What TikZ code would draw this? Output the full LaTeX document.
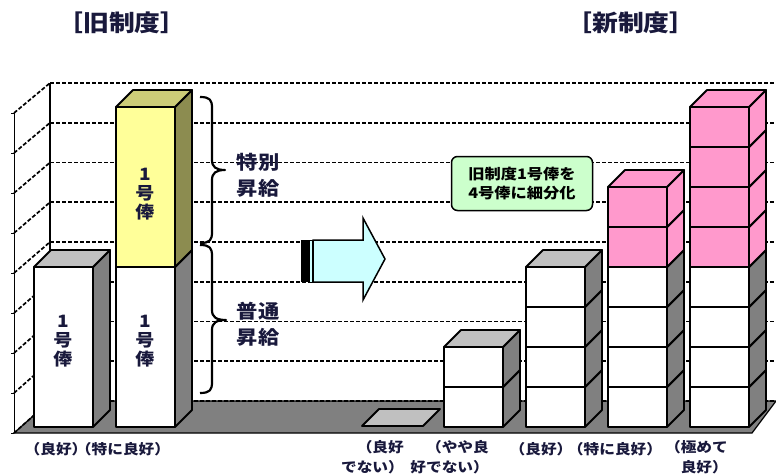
\documentclass[tikz,border=0pt]{standalone}
\usepackage{fontspec}
\setmainfont{Noto Sans CJK JP}[FakeStretch=1.12]
\usepackage{tikz}
\usetikzlibrary{positioning}
\usepackage{xcolor}
\definecolor{cFloor}{RGB}{128,128,128}
\definecolor{cSide}{RGB}{128,128,128}
\definecolor{cTop}{RGB}{192,192,192}
\definecolor{cYellow}{RGB}{255,255,153}
\definecolor{cOliveTop}{RGB}{204,204,120}
\definecolor{cOliveSide}{RGB}{140,140,80}
\definecolor{cPink}{RGB}{255,153,204}
\definecolor{cCyan}{RGB}{204,255,255}
\definecolor{cMint}{RGB}{204,255,204}
\definecolor{cInk}{RGB}{25,25,60}
\tikzset{
  gridline/.style={line width=1.7pt,dash pattern=on 4pt off 2pt,color=black},
  wallline/.style={line width=1.4pt,color=black},
  axisline/.style={line width=0.8pt,color=black},
  floorbox/.style={fill=cFloor,draw=black,line width=1.2pt},
  blockedge/.style={draw=black,line width=1.8pt,line join=round},
  bracepath/.style={line width=2.2pt,color=black,line join=round},
  arrowbox/.style={fill=cCyan,draw=black,line width=1.5pt,line join=miter},
  hdr/.style={font=\fontsize{23}{25}\selectfont\bfseries,text=cInk,inner sep=0pt},
  barlbl/.style={font=\fontsize{17}{19}\selectfont\bfseries,text=cInk,
                 align=center,inner sep=0pt},
  bracelbl/.style={font=\fontsize{19}{26}\selectfont\bfseries,text=cInk,
                   align=left,inner sep=0pt},
  catlbl/.style={font=\fontsize{14}{20}\selectfont\bfseries,text=cInk,
                 align=right,inner sep=0pt},
  notebox/.style={rectangle,rounded corners=6pt,draw=black,line width=1.5pt,
                  fill=cMint,minimum width=141pt,minimum height=54pt,
                  align=center,inner sep=0pt,
                  font=\fontsize{14.5}{19}\selectfont\bfseries}
}
% one 3D block: x, bottom y, height, front, side, top
\newcommand{\colblock}[6]{%
  \filldraw[blockedge,fill=#5] (#1+59,#2) -- ++(17,-17) -- ++(0,-#3)
      -- ++(-17,17) -- cycle;
  \filldraw[blockedge,fill=#4] (#1,#2) rectangle ++(59,-#3);
  \filldraw[blockedge,fill=#6] (#1,#2-#3) -- ++(17,-17) -- ++(59,0)
      -- ++(-17,17) -- cycle;
}
\begin{document}
\begin{tikzpicture}[x=1pt,y=-1pt]
  \useasboundingbox (0,0) rectangle (776,476);

  % floor, walls and grid
  \filldraw[floorbox] (14,433) -- (752,433) -- (776,401) -- (50,401) -- cycle;
  \foreach \k in {0,...,8}
    \draw[gridline] (50,83+39.75*\k) -- (776,83+39.75*\k);
  \foreach \k in {0,...,8}
    \draw[gridline] (14,113+40*\k) -- (50,83+39.75*\k);
  \draw[wallline] (50,83) -- (50,401);
  \draw[axisline] (14,113) -- (14,433);
  \foreach \k in {0,...,8}
    \draw[axisline] (11,113+40*\k) -- (14,113+40*\k);

  % old system
  \colblock{34}{427}{160}{white}{cSide}{cTop}
  \colblock{116}{427}{160}{white}{cSide}{cTop}
  \colblock{116}{267}{160}{cYellow}{cOliveSide}{cOliveTop}

  % new system
  \filldraw[blockedge,fill=cTop] (362,426) -- (423,426) -- (440,409)
      -- (379,409) -- cycle;
  \foreach \k in {0,1}{\colblock{444}{427-40*\k}{40}{white}{cSide}{cTop}}
  \foreach \k in {0,...,3}{\colblock{526}{427-40*\k}{40}{white}{cSide}{cTop}}
  \foreach \k in {0,...,3}{\colblock{608}{427-40*\k}{40}{white}{cSide}{cTop}}
  \foreach \k in {4,5}{\colblock{608}{427-40*\k}{40}{cPink}{cPink}{cPink}}
  \foreach \k in {0,...,3}{\colblock{690}{427-40*\k}{40}{white}{cSide}{cTop}}
  \foreach \k in {4,...,7}{\colblock{690}{427-40*\k}{40}{cPink}{cPink}{cPink}}

  % labels inside bars
  \node[barlbl] (oldA) at (63,341) {1\\号\\俸};
  \node[barlbl] (oldB) at (145,341) {1\\号\\俸};
  \node[barlbl] (oldC) at (145,194) {1\\号\\俸};

  % braces
  \coordinate (upTop) at (200,97);
  \coordinate (upBot) at (200,243);
  \coordinate (loTop) at (200,245);
  \coordinate (loBot) at (200,393);
  \draw[bracepath] (upTop) .. controls (210,97) and (212,100) .. (212,108)
      -- (212,160) .. controls (212,167) and (216,170) .. (225,170)
      .. controls (216,170) and (212,173) .. (212,180)
      -- (212,232) .. controls (212,240) and (210,243) .. (upBot);
  \draw[bracepath] (loTop) .. controls (210,245) and (212,248) .. (212,256)
      -- (212,310) .. controls (212,317) and (216,320) .. (226,320)
      .. controls (216,320) and (212,323) .. (212,330)
      -- (212,382) .. controls (212,390) and (210,393) .. (loBot);
  \node[bracelbl] (special) at (258,175) {特別\\昇給};
  \node[bracelbl] (normal) at (258,324) {普通\\昇給};

  % transition arrow
  \fill[black] (301,240) rectangle (309,282);
  \filldraw[arrowbox,line width=1pt] (309.5,240) rectangle (312.5,282);
  \filldraw[arrowbox] (313,240) -- (363,240) -- (363,218) -- (385,259)
      -- (363,300) -- (363,282) -- (313,282) -- cycle;

  % note
  \node[notebox] (note) at (522,183.5) {旧制度1号俸を\\4号俸に細分化};

  % titles
  \node[hdr] (oldtitle) at (122,23) {［旧制度］};
  \node[hdr] (newtitle) at (631,23) {［新制度］};

  % category labels
  \node[catlbl] (catA) at (56,449) {（良好）};
  \node[catlbl] (catB) at (123,449) {（特に良好）};
  \node[catlbl,anchor=north east] (catC) at (404,440) {（良好\\でない）};
  \node[catlbl,anchor=north east] (catD) at (489,440) {（やや良\\好でない）};
  \node[catlbl] (catE) at (541,449) {（良好）};
  \node[catlbl] (catF) at (615,449) {（特に良好）};
  \node[catlbl,anchor=north east] (catG) at (728,440) {（極めて\\良好）};
\end{tikzpicture}
\end{document}
